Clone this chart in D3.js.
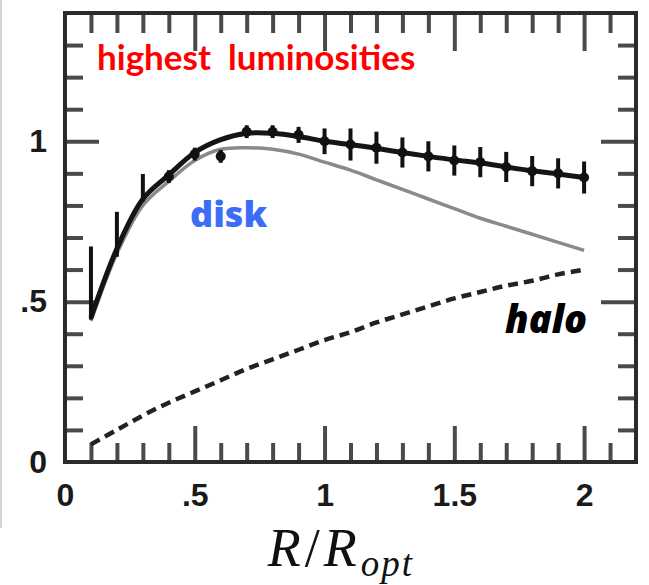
<!DOCTYPE html>
<html>
<head>
<meta charset="utf-8">
<script src="https://cdn.jsdelivr.net/npm/d3@7"></script>
<style>
  body { margin: 0; background: #fff; }
  svg { display: block; }
</style>
</head>
<body>
<div id="chart"></div>
<script>
// binned rotation curve, highest luminosity bin
const radius   = [0.1, 0.2, 0.3, 0.4, 0.5, 0.6, 0.7, 0.8, 0.9, 1.0, 1.1, 1.2, 1.3, 1.4, 1.5, 1.6, 1.7, 1.8, 1.9, 2.0];
const obsVel   = [0.558, 0.71, 0.855, 0.89, 0.96, 0.953, 1.03, 1.03, 1.02, 1.0, 0.99, 0.98, 0.965, 0.953, 0.94, 0.935, 0.92, 0.907, 0.90, 0.887];
const obsErr   = [0.114, 0.07, 0.043, 0.02, 0.02, 0.02, 0.02, 0.02, 0.025, 0.04, 0.05, 0.05, 0.047, 0.047, 0.047, 0.047, 0.047, 0.047, 0.047, 0.05];
const totalFit = [0.45, 0.665, 0.82, 0.895, 0.965, 1.005, 1.025, 1.025, 1.015, 1.0, 0.99, 0.978, 0.965, 0.953, 0.942, 0.933, 0.92, 0.908, 0.898, 0.887];
const diskFit  = [0.44, 0.65, 0.80, 0.875, 0.94, 0.975, 0.98, 0.975, 0.96, 0.935, 0.91, 0.88, 0.85, 0.82, 0.79, 0.76, 0.735, 0.71, 0.685, 0.66];
const haloFit  = [0.055, 0.10, 0.145, 0.185, 0.22, 0.255, 0.29, 0.32, 0.35, 0.38, 0.405, 0.435, 0.46, 0.485, 0.51, 0.53, 0.55, 0.565, 0.585, 0.60];

const xTickValues = [0, 0.5, 1, 1.5, 2];
const xTickLabels = ["0", ".5", "1", "1.5", "2"];
const yTickValues = [0, 0.5, 1];
const yTickLabels = ["0", ".5", "1"];

const W = 649, H = 585;
const margin = { top: 13, right: 13, bottom: 123, left: 65 };
const width = W - margin.left - margin.right;
const height = H - margin.top - margin.bottom;

const svg = d3.select('#chart').append('svg')
    .attr('width', W)
    .attr('height', H);

// faint scan border on the far left
svg.append('line')
    .attr('x1', 1).attr('x2', 1)
    .attr('y1', 0).attr('y2', 528)
    .attr('stroke', '#d4d4d4')
    .attr('stroke-width', 2);

const g = svg.append('g')
    .attr('transform', `translate(${margin.left},${margin.top})`);

const x = d3.scaleLinear().domain([0, 2.2]).range([0, width]);
const y = d3.scaleLinear().domain([0, 1.4]).range([height, 0]);

const minorX = d3.range(1, 22).map(i => i / 10).filter(v => ![0.5, 1, 1.5, 2].includes(v));
const minorY = d3.range(1, 14).map(i => i / 10).filter(v => ![0.5, 1].includes(v));
const majorX = [0.5, 1, 1.5, 2];
const majorY = [0.5, 1];

const tickColor = '#4a4a4a';

function styleTicks(sel) {
    sel.select('.domain').remove();
    sel.selectAll('.tick line')
        .attr('stroke', tickColor)
        .attr('stroke-width', 4);
    sel.selectAll('.tick text').remove();
}

// inward ticks on all four sides
g.append('g').attr('transform', `translate(0,${height})`)
    .call(d3.axisBottom(x).tickValues(minorX).tickSize(-19)).call(styleTicks);
g.append('g').attr('transform', `translate(0,${height})`)
    .call(d3.axisBottom(x).tickValues(majorX).tickSize(-36)).call(styleTicks);
g.append('g')
    .call(d3.axisTop(x).tickValues(minorX).tickSize(-20)).call(styleTicks);
g.append('g')
    .call(d3.axisTop(x).tickValues(majorX).tickSize(-38)).call(styleTicks);
g.append('g')
    .call(d3.axisLeft(y).tickValues(minorY).tickSize(-18)).call(styleTicks);
g.append('g')
    .call(d3.axisLeft(y).tickValues(majorY).tickSize(-34)).call(styleTicks);
g.append('g').attr('transform', `translate(${width},0)`)
    .call(d3.axisRight(y).tickValues(minorY).tickSize(-18)).call(styleTicks);
g.append('g').attr('transform', `translate(${width},0)`)
    .call(d3.axisRight(y).tickValues(majorY).tickSize(-35)).call(styleTicks);

// tick labels
const labelFont = "'Liberation Sans', Arial, sans-serif";
const xLab = g.append('g').attr('transform', `translate(0,${height})`)
    .call(d3.axisBottom(x).tickValues(xTickValues).tickSize(0).tickPadding(21)
        .tickFormat((d, i) => xTickLabels[i]));
xLab.select('.domain').remove();
xLab.selectAll('text')
    .attr('font-family', labelFont)
    .attr('font-weight', 'bold')
    .attr('font-size', 32)
    .attr('fill', '#1a1a1a');

const yLab = g.append('g')
    .call(d3.axisLeft(y).tickValues(yTickValues).tickSize(0).tickPadding(18)
        .tickFormat((d, i) => yTickLabels[i]));
yLab.select('.domain').remove();
yLab.selectAll('text')
    .attr('font-family', labelFont)
    .attr('font-weight', 'bold')
    .attr('font-size', 32)
    .attr('fill', '#1a1a1a');

// frame
g.append('rect')
    .attr('x', 0).attr('y', 0)
    .attr('width', width).attr('height', height)
    .attr('fill', 'none')
    .attr('stroke', '#2b2b2b')
    .attr('stroke-width', 4);

// curves
const line = vals => d3.line()
    .x((d, i) => x(radius[i]))
    .y(d => y(d))
    .curve(d3.curveCatmullRom)(vals);

g.append('path')
    .attr('d', line(haloFit))
    .attr('fill', 'none')
    .attr('stroke', '#222')
    .attr('stroke-width', 4.5)
    .attr('stroke-dasharray', '10,6');

g.append('path')
    .attr('d', line(diskFit))
    .attr('fill', 'none')
    .attr('stroke', '#8a8a8a')
    .attr('stroke-width', 3.5);

g.append('path')
    .attr('d', line(totalFit))
    .attr('fill', 'none')
    .attr('stroke', '#151515')
    .attr('stroke-width', 5);

// data with error bars
const obs = radius.map((r, i) => ({ r: r, v: obsVel[i], e: obsErr[i] }));

g.selectAll('.err').data(obs).enter().append('line')
    .attr('class', 'err')
    .attr('x1', d => x(d.r)).attr('x2', d => x(d.r))
    .attr('y1', d => y(d.v + d.e)).attr('y2', d => y(d.v - d.e))
    .attr('stroke', '#111')
    .attr('stroke-width', 4);

g.selectAll('.pt').data(obs.filter(d => d.r > 0.35)).enter().append('circle')
    .attr('class', 'pt')
    .attr('cx', d => x(d.r))
    .attr('cy', d => y(d.v))
    .attr('r', 5)
    .attr('fill', '#111');

// annotations
g.append('text')
    .attr('x', 97 - margin.left).attr('y', 70 - margin.top)
    .attr('font-family', "Lato, 'Open Sans', sans-serif")
    .attr('font-weight', 'bold')
    .attr('font-size', 35)
    .attr('fill', '#ff0000')
    .style('white-space', 'pre')
    .text('highest  luminosities');

g.append('text')
    .attr('x', 190 - margin.left).attr('y', 227 - margin.top)
    .attr('font-family', "'Open Sans', Lato, sans-serif")
    .attr('font-weight', 800)
    .attr('font-size', 36)
    .attr('fill', '#3d6cf7')
    .text('disk');

g.append('text')
    .attr('x', 505 - margin.left).attr('y', 333 - margin.top)
    .attr('font-family', "'Open Sans', Lato, sans-serif")
    .attr('font-weight', 800)
    .attr('font-style', 'italic')
    .attr('font-size', 38)
    .attr('fill', '#000')
    .text('halo');

// x axis title
const title = svg.append('text')
    .attr('x', 341).attr('y', 566)
    .attr('text-anchor', 'middle')
    .attr('font-family', "'Liberation Serif', 'DejaVu Serif', serif")
    .attr('font-size', 54)
    .attr('letter-spacing', 4)
    .attr('fill', '#111');
title.append('tspan').attr('font-style', 'italic').text('R');
title.append('tspan').text('/');
title.append('tspan').attr('font-style', 'italic').text('R');
title.append('tspan').attr('dy', 10).attr('font-size', 37).attr('font-style', 'italic')
    .attr('letter-spacing', 2).text('opt');
</script>
</body>
</html>
